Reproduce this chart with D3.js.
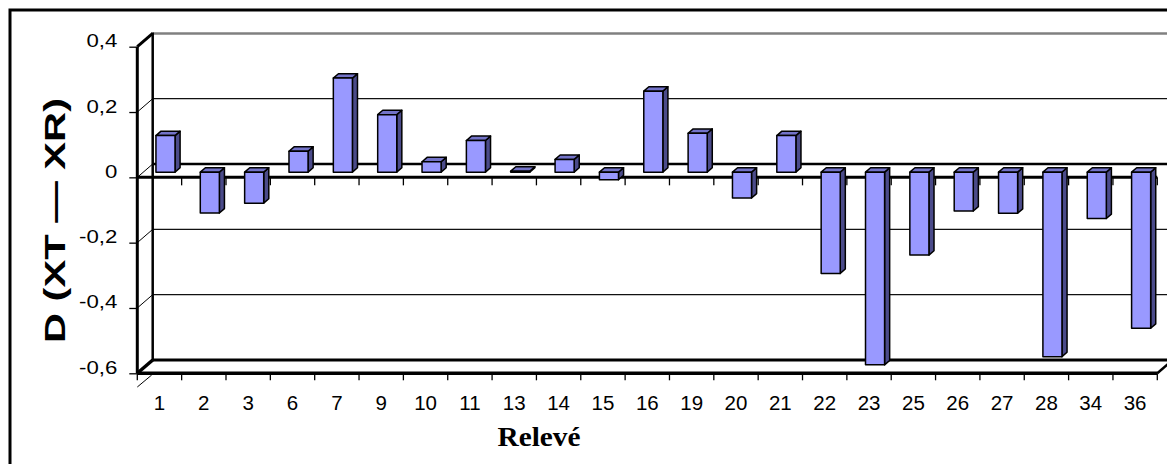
<!DOCTYPE html>
<html><head><meta charset="utf-8">
<script src="https://cdn.jsdelivr.net/npm/d3@7"></script>
<style>
html,body{margin:0;padding:0;background:#fff;}
svg{display:block;}
</style></head>
<body>
<svg id="chart" width="1167" height="464"></svg>
<script>
const categories = ["1","2","3","6","7","9","10","11","13","14","15","16","19","20","21","22","23","25","26","27","28","34","36"];
const values = [0.112,-0.125,-0.095,0.064,0.288,0.176,0.032,0.097,0.003,0.039,-0.023,0.248,0.119,-0.079,0.112,-0.310,-0.590,-0.254,-0.119,-0.126,-0.565,-0.142,-0.478];
const yTickValues = [0.4,0.2,0,-0.2,-0.4,-0.6];
const yTickLabels = ["0,4","0,2","0","-0,2","-0,4","-0,6"];
const yTitle = "D (XT — XR)";
const xTitle = "Relevé";

const svg = d3.select("#chart");
const X0 = 137.3, X1 = 1157.3;
const DX = 15.4, DY = -13.3;       // depth vector of the 3D box
const DF = 0.39, DB = 0.72;        // bar depth (front/back fraction)

const y = d3.scaleLinear().domain([-0.6, 0.4]).range([373.3, 46.7]);
const x = d3.scaleBand().domain(categories).range([X0, X1]).paddingInner(0.57).paddingOuter(0.285);
const step = x.step();
const P = (xs, v, d) => [xs + d*DX, y(v) + d*DY];

// outer border
svg.append("rect").attr("x",10).attr("y",10).attr("width",1200).attr("height",500)
  .attr("fill","none").attr("stroke","#000").attr("stroke-width",3);

const g = svg.append("g");

// gridlines: side wall diagonal + back wall horizontal
yTickValues.forEach(t => {
  const a = P(X0, t, 0), b = P(X0, t, 1), c = P(X1 + 20, t, 1);
  let diagW = 1, backW = 1.2, backC = "#111";
  if (t === 0.4) { diagW = 3; backW = 2.5; backC = "#808080"; }
  if (t === 0) { backW = 2.5; backC = "#000"; }
  if (t === -0.6) { diagW = 3.5; backW = 3; backC = "#000"; }
  g.append("line").attr("x1",a[0]).attr("y1",a[1]).attr("x2",b[0]).attr("y2",b[1])
    .attr("stroke","#000").attr("stroke-width",diagW);
  g.append("line").attr("x1",b[0]).attr("y1",b[1]).attr("x2",c[0]).attr("y2",c[1])
    .attr("stroke",backC).attr("stroke-width",backW);
});
// back wall left edge
{
  const a = P(X0, 0.4, 1), b = P(X0, -0.6, 1);
  g.append("line").attr("x1",a[0]).attr("y1",a[1]-1).attr("x2",b[0]).attr("y2",b[1])
    .attr("stroke","#000").attr("stroke-width",2.5);
}
// floor front edge & right diagonal
{
  const a = P(X0, -0.6, 0), b = P(X1, -0.6, 0), c = P(X1, -0.6, 1);
  g.append("line").attr("x1",a[0]).attr("y1",a[1]).attr("x2",b[0]).attr("y2",b[1])
    .attr("stroke","#000").attr("stroke-width",3.5);
  g.append("line").attr("x1",b[0]).attr("y1",b[1]).attr("x2",c[0]).attr("y2",c[1])
    .attr("stroke","#000").attr("stroke-width",2.5);
  g.append("line").attr("x1",X0).attr("y1",387).attr("x2",X0+14.4).attr("y2",375)
    .attr("stroke","#000").attr("stroke-width",1);
}
// front vertical axis line
g.append("line").attr("x1",X0).attr("y1",y(0.4)).attr("x2",X0).attr("y2",y(-0.6))
  .attr("stroke","#000").attr("stroke-width",3);
// front zero line
g.append("line").attr("x1",X0).attr("y1",y(0)).attr("x2",X1).attr("y2",y(0))
  .attr("stroke","#000").attr("stroke-width",3);
// boundary ticks at zero line and at floor
d3.range(categories.length + 1).forEach(i => {
  const xs = X0 + i*step;
  g.append("line").attr("x1",xs).attr("y1",y(0)).attr("x2",xs).attr("y2",y(0)+8)
    .attr("stroke","#000").attr("stroke-width",1.3);
  g.append("line").attr("x1",xs).attr("y1",y(-0.6)).attr("x2",xs).attr("y2",y(-0.6)+7)
    .attr("stroke","#000").attr("stroke-width",1.3);
});

// y axis (ticks + labels)
const yAxis = d3.axisLeft(y).tickValues(yTickValues).tickSize(8).tickPadding(12)
  .tickFormat((d,i) => yTickLabels[i]);
const ya = svg.append("g").attr("transform",`translate(${X0},0)`).call(yAxis);
ya.select(".domain").remove();
ya.selectAll(".tick line").attr("stroke","#000").attr("stroke-width",1.3);
ya.selectAll(".tick text").attr("dy","0").attr("fill","#000")
  .style("font-family","'Liberation Sans', Arial, sans-serif").style("font-size","18.5px")
  .each(function(){ const L = this.getComputedTextLength(); d3.select(this).attr("textLength", L*1.2).attr("lengthAdjust","spacingAndGlyphs"); });

// x axis labels
const xAxis = d3.axisBottom(x).tickSize(0).tickPadding(0);
const xa = svg.append("g").attr("transform",`translate(0,${y(-0.6)})`).call(xAxis);
xa.select(".domain").remove();
xa.selectAll(".tick text").attr("y",36.5).attr("dy","0").attr("fill","#000")
  .style("font-family","'Liberation Sans', Arial, sans-serif").style("font-size","20.5px");

// bars
const bars = svg.append("g");
categories.forEach((c, i) => {
  const v = values[i];
  const top = Math.max(v, 0), bot = Math.min(v, 0);
  const xl = x(c), xr = x(c) + x.bandwidth();
  const poly = pts => pts.map(p => p.join(",")).join(" ");
  const gb = bars.append("g").attr("stroke","#000").attr("stroke-width",1.5).attr("stroke-linejoin","round");
  gb.append("polygon").attr("points", poly([P(xr,top,DF),P(xr,top,DB),P(xr,bot,DB),P(xr,bot,DF)])).attr("fill","#4b4b8a");
  gb.append("polygon").attr("points", poly([P(xl,top,DF),P(xr,top,DF),P(xr,top,DB),P(xl,top,DB)])).attr("fill","#7373c8");
  gb.append("polygon").attr("points", poly([P(xl,top,DF),P(xr,top,DF),P(xr,bot,DF),P(xl,bot,DF)])).attr("fill","#9999ff");
});

// titles
svg.append("text").attr("transform","translate(65,220.5) rotate(-90)")
  .attr("text-anchor","middle").attr("fill","#000")
  .style("font-family","'Liberation Sans', Arial, sans-serif").style("font-size","30px").style("font-weight","bold")
  .attr("textLength",245).attr("lengthAdjust","spacingAndGlyphs").text(yTitle);
svg.append("text").attr("x",539).attr("y",446).attr("text-anchor","middle").attr("fill","#000")
  .style("font-family","'Liberation Serif', 'Times New Roman', serif").style("font-size","28px").style("font-weight","bold")
  .attr("textLength",83).attr("lengthAdjust","spacingAndGlyphs").text(xTitle);
</script>
</body></html>
